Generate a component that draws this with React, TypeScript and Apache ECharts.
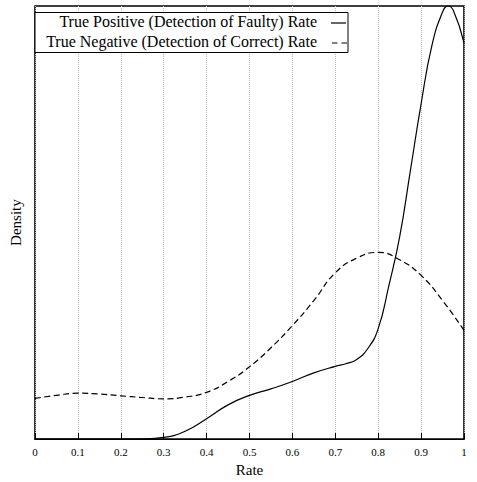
import React, { useEffect, useRef } from "react";
import * as echarts from "echarts";

// True Positive (Detection of Faulty) Rate – density curve
const tpRate = [0, 0.1, 0.2, 0.25, 0.3, 0.35, 0.4, 0.45, 0.5, 0.55, 0.6, 0.65, 0.7, 0.725, 0.75, 0.775, 0.8, 0.825, 0.85, 0.875, 0.9, 0.925, 0.95, 0.9625, 0.975, 1.0];
const tpDensity = [0, 0, 0, 0.005, 0.04, 0.18, 0.47, 0.79, 1.01, 1.16, 1.33, 1.53, 1.68, 1.74, 1.84, 2.08, 2.55, 3.55, 4.67, 6.2, 7.74, 9.08, 9.86, 10.0, 9.9, 9.15];

// True Negative (Detection of Correct) Rate – density curve
const tnRate = [0, 0.05, 0.1, 0.15, 0.2, 0.25, 0.3, 0.35, 0.4, 0.45, 0.5, 0.55, 0.6, 0.65, 0.7, 0.75, 0.8, 0.85, 0.9, 0.95, 1.0];
const tnDensity = [0.94, 1.01, 1.06, 1.04, 1.0, 0.96, 0.93, 0.97, 1.08, 1.33, 1.67, 2.11, 2.62, 3.2, 3.84, 4.18, 4.31, 4.14, 3.78, 3.2, 2.51];

const seriesNames = [
  "True Positive (Detection of Faulty) Rate",
  "True Negative (Detection of Correct) Rate",
];

const FONT = "'Liberation Serif', 'DejaVu Serif', serif";

export default function App() {
  const ref = useRef<HTMLDivElement>(null);

  useEffect(() => {
    if (!ref.current) return;
    const chart = echarts.init(ref.current, null, { renderer: "svg" });
    const tpData = tpRate.map((x, i) => [x, tpDensity[i]]);
    const tnData = tnRate.map((x, i) => [x, tnDensity[i]]);

    chart.setOption({
      animation: false,
      backgroundColor: "#fff",
      grid: {
        left: 28,
        right: 13,
        top: 6,
        bottom: 41,
        show: true,
        borderColor: "#000",
        borderWidth: 1.6,
        backgroundColor: "transparent",
      },
      xAxis: {
        type: "value",
        min: 0,
        max: 1,
        interval: 0.1,
        name: "Rate",
        nameLocation: "middle",
        nameGap: 19,
        nameTextStyle: { fontFamily: FONT, fontSize: 15, color: "#000" },
        axisLine: { show: false },
        axisTick: { show: true, inside: true, length: 6, lineStyle: { color: "#000", width: 1 } },
        axisLabel: { fontFamily: FONT, fontSize: 11, color: "#000", margin: 7 },
        splitLine: { show: true, lineStyle: { type: "dotted", color: "#bbb", width: 1 } },
      },
      yAxis: {
        type: "value",
        min: 0,
        max: 10,
        name: "Density",
        nameLocation: "middle",
        nameGap: 12,
        nameTextStyle: { fontFamily: FONT, fontSize: 15, color: "#000" },
        axisLine: { show: false },
        axisTick: { show: false },
        axisLabel: { show: false },
        splitLine: { show: false },
      },
      series: [
        {
          name: seriesNames[0],
          type: "line",
          data: tpData,
          smooth: 0.5,
          symbol: "none",
          lineStyle: { color: "#000", width: 1.2, type: "solid" },
          z: 3,
        },
        {
          name: seriesNames[1],
          type: "line",
          data: tnData,
          smooth: 0.5,
          symbol: "none",
          lineStyle: { color: "#000", width: 1.2, type: [6, 3.5] },
          z: 3,
        },
      ],
      graphic: [
        {
          type: "rect",
          shape: { x: 35, y: 12.5, width: 313, height: 40 },
          style: { fill: "#fff", stroke: "#000", lineWidth: 1 },
          z: 10,
        },
        {
          type: "text",
          x: 317,
          y: 21.5,
          style: {
            text: seriesNames[0],
            fontFamily: FONT,
            fontSize: 16,
            fill: "#000",
            align: "right",
            verticalAlign: "middle",
          },
          z: 11,
        },
        {
          type: "text",
          x: 317,
          y: 41,
          style: {
            text: seriesNames[1],
            fontFamily: FONT,
            fontSize: 16,
            fill: "#000",
            align: "right",
            verticalAlign: "middle",
          },
          z: 11,
        },
        {
          type: "line",
          shape: { x1: 331, y1: 23, x2: 346, y2: 23 },
          style: { stroke: "#000", lineWidth: 1.2 },
          z: 11,
        },
        {
          type: "line",
          shape: { x1: 332, y1: 43, x2: 347, y2: 43 },
          style: { stroke: "#000", lineWidth: 1.2, lineDash: [5.5, 4] },
          z: 11,
        },
      ],
    });

    return () => chart.dispose();
  }, []);

  return (
    <div
      ref={ref}
      style={{ position: "absolute", left: 0, top: 0, width: 477, height: 482 }}
    />
  );
}
